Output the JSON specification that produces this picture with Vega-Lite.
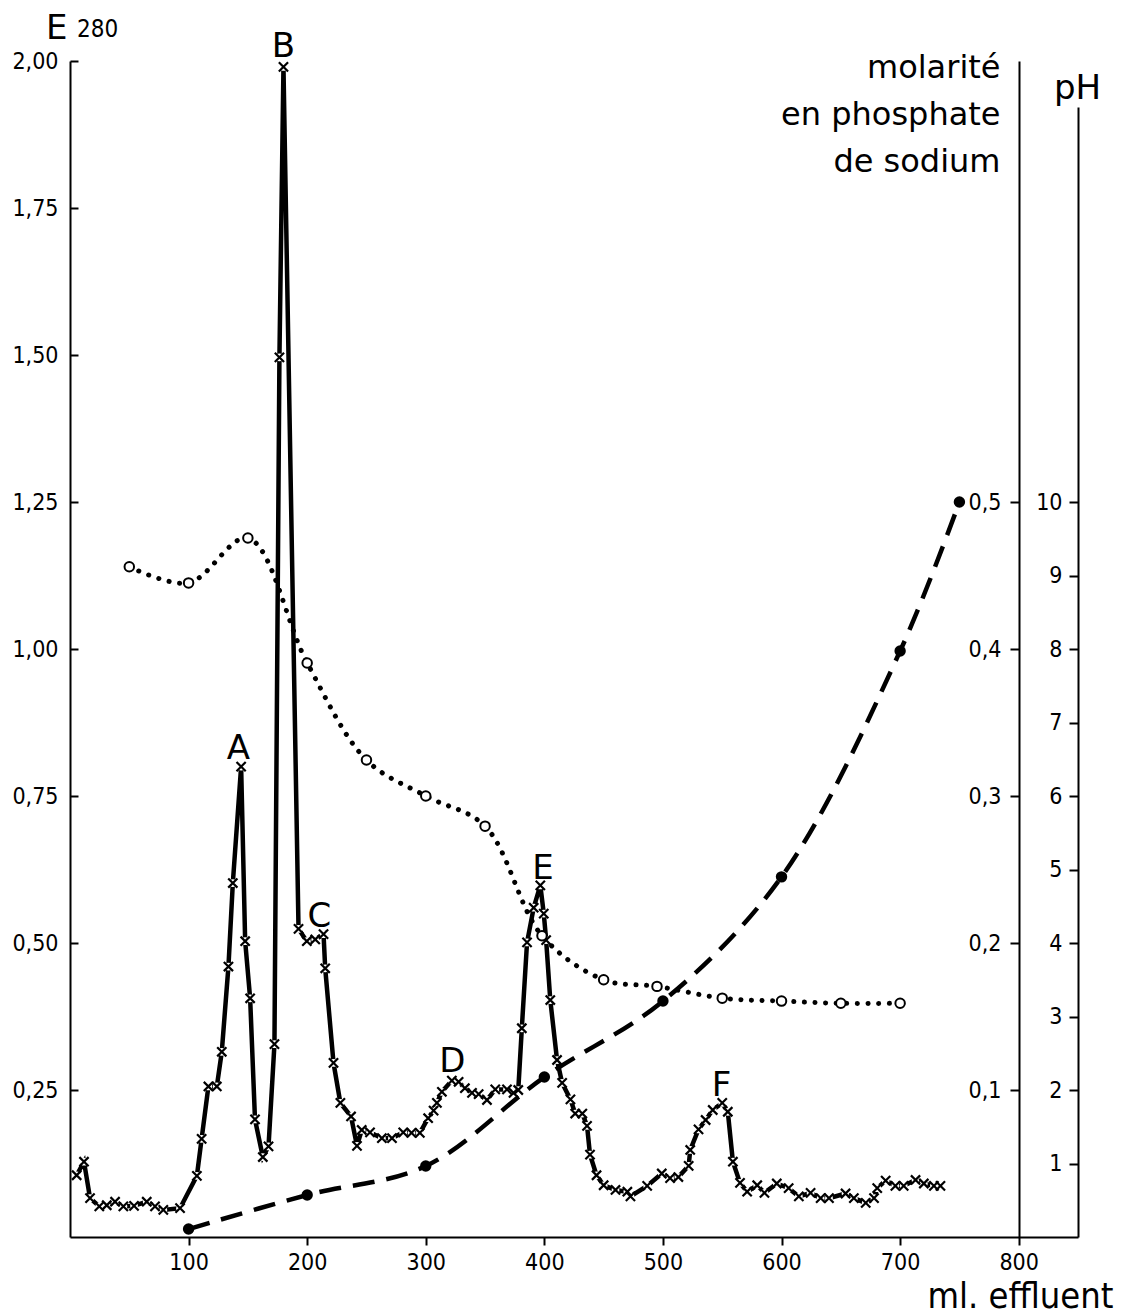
{
  "$schema": "https://vega.github.io/schema/vega-lite/v6.json",
  "width": 1008,
  "height": 1176,
  "autosize": "none",
  "padding": {"left": 70, "top": 61, "right": 51, "bottom": 78},
  "background": "white",
  "config": {
    "view": {"stroke": null},
    "axis": {
      "grid": false,
      "domainColor": "black",
      "tickColor": "black",
      "labelColor": "black",
      "titleColor": "black",
      "labelFont": "DejaVu Sans Condensed",
      "labelFontSize": 23,
      "domainWidth": 2,
      "tickWidth": 2,
      "labelFlush": false,
      "labelOverlap": false,
      "titleFontWeight": "normal"
    }
  },
  "title": {
    "text": "280",
    "anchor": "start",
    "frame": "group",
    "dx": 7,
    "offset": -50,
    "baseline": "alphabetic",
    "fontSize": 24,
    "font": "DejaVu Sans Condensed",
    "fontWeight": "normal",
    "color": "black"
  },
  "datasets": {
    "e280": [
      {"ml": 5.6, "E": 0.105}, {"ml": 11.8, "E": 0.128}, {"ml": 16.9, "E": 0.066}, {"ml": 24.7, "E": 0.052},
      {"ml": 31, "E": 0.054}, {"ml": 38, "E": 0.06}, {"ml": 45, "E": 0.052}, {"ml": 54, "E": 0.053},
      {"ml": 64.7, "E": 0.06}, {"ml": 71.7, "E": 0.052}, {"ml": 78.7, "E": 0.046}, {"ml": 92.8, "E": 0.049},
      {"ml": 107, "E": 0.104}, {"ml": 111, "E": 0.167}, {"ml": 116.7, "E": 0.256}, {"ml": 123.8, "E": 0.256},
      {"ml": 128, "E": 0.315}, {"ml": 133.6, "E": 0.46}, {"ml": 137.3, "E": 0.602}, {"ml": 144.3, "E": 0.8},
      {"ml": 147.7, "E": 0.503}, {"ml": 151.9, "E": 0.406}, {"ml": 156, "E": 0.2}, {"ml": 162.6, "E": 0.136},
      {"ml": 167.4, "E": 0.154}, {"ml": 172.4, "E": 0.328}, {"ml": 176.6, "E": 1.496}, {"ml": 180, "E": 1.99},
      {"ml": 192.7, "E": 0.524}, {"ml": 199.7, "E": 0.503}, {"ml": 206.8, "E": 0.506}, {"ml": 213.8, "E": 0.515},
      {"ml": 215.2, "E": 0.457}, {"ml": 222.2, "E": 0.296}, {"ml": 228, "E": 0.228}, {"ml": 237, "E": 0.205},
      {"ml": 242, "E": 0.155}, {"ml": 246, "E": 0.182}, {"ml": 253, "E": 0.178}, {"ml": 263, "E": 0.168},
      {"ml": 271.5, "E": 0.168}, {"ml": 281, "E": 0.178}, {"ml": 288, "E": 0.177}, {"ml": 295, "E": 0.177},
      {"ml": 302, "E": 0.202}, {"ml": 306.6, "E": 0.215}, {"ml": 309.4, "E": 0.228}, {"ml": 313.6, "E": 0.247},
      {"ml": 322, "E": 0.266}, {"ml": 327.7, "E": 0.264}, {"ml": 333, "E": 0.253}, {"ml": 339, "E": 0.245},
      {"ml": 344.6, "E": 0.243}, {"ml": 351.6, "E": 0.233}, {"ml": 358.6, "E": 0.251}, {"ml": 368.5, "E": 0.251},
      {"ml": 374, "E": 0.245}, {"ml": 378, "E": 0.25}, {"ml": 381, "E": 0.355}, {"ml": 385.4, "E": 0.501},
      {"ml": 391, "E": 0.56}, {"ml": 396.6, "E": 0.598}, {"ml": 399.5, "E": 0.55}, {"ml": 401.5, "E": 0.505},
      {"ml": 405, "E": 0.403}, {"ml": 410.7, "E": 0.301}, {"ml": 415, "E": 0.262}, {"ml": 422, "E": 0.234},
      {"ml": 426, "E": 0.21}, {"ml": 432, "E": 0.21}, {"ml": 436, "E": 0.189}, {"ml": 438.5, "E": 0.14},
      {"ml": 444, "E": 0.105}, {"ml": 450, "E": 0.088}, {"ml": 460, "E": 0.08}, {"ml": 470, "E": 0.077},
      {"ml": 472.6, "E": 0.069}, {"ml": 486.7, "E": 0.087}, {"ml": 499, "E": 0.108}, {"ml": 506, "E": 0.1},
      {"ml": 513, "E": 0.102}, {"ml": 521.7, "E": 0.121}, {"ml": 523, "E": 0.148}, {"ml": 530, "E": 0.183},
      {"ml": 536, "E": 0.199}, {"ml": 542, "E": 0.216}, {"ml": 550, "E": 0.228}, {"ml": 554.7, "E": 0.213},
      {"ml": 559, "E": 0.128}, {"ml": 565, "E": 0.092}, {"ml": 571, "E": 0.077}, {"ml": 579.5, "E": 0.088},
      {"ml": 585.6, "E": 0.075}, {"ml": 596, "E": 0.091}, {"ml": 606, "E": 0.083}, {"ml": 614.6, "E": 0.069},
      {"ml": 624.5, "E": 0.075}, {"ml": 633, "E": 0.066}, {"ml": 640, "E": 0.066}, {"ml": 654, "E": 0.074},
      {"ml": 661, "E": 0.066}, {"ml": 671, "E": 0.058}, {"ml": 678, "E": 0.066}, {"ml": 680.7, "E": 0.083},
      {"ml": 687.8, "E": 0.096}, {"ml": 696, "E": 0.087}, {"ml": 703, "E": 0.087}, {"ml": 713, "E": 0.097},
      {"ml": 720, "E": 0.091}, {"ml": 728.5, "E": 0.087}, {"ml": 734, "E": 0.087}
    ],
    "peaks": [
      {"label": "A", "ml": 142, "E": 0.813},
      {"label": "B", "ml": 180, "E": 2.006},
      {"label": "C", "ml": 210.3, "E": 0.528},
      {"label": "D", "ml": 322.5, "E": 0.28},
      {"label": "E", "ml": 398.9, "E": 0.609},
      {"label": "F", "ml": 549.5, "E": 0.239}
    ],
    "molarity": [
      {"ml": 100, "M": 0.0054}, {"ml": 200, "M": 0.0286}, {"ml": 300, "M": 0.0483}, {"ml": 400, "M": 0.1088},
      {"ml": 500, "M": 0.1605}, {"ml": 600, "M": 0.245}, {"ml": 700, "M": 0.3986}, {"ml": 750, "M": 0.5}
    ],
    "ph": [
      {"ml": 50, "pH": 9.12}, {"ml": 100, "pH": 8.9}, {"ml": 150, "pH": 9.51}, {"ml": 200, "pH": 7.81},
      {"ml": 250, "pH": 6.49}, {"ml": 300, "pH": 6.0}, {"ml": 350, "pH": 5.59}, {"ml": 398, "pH": 4.1},
      {"ml": 450, "pH": 3.5}, {"ml": 495, "pH": 3.41}, {"ml": 550, "pH": 3.25}, {"ml": 600, "pH": 3.21},
      {"ml": 650, "pH": 3.18}, {"ml": 700, "pH": 3.18}
    ]
  },
  "encoding": {
    "x": {
      "field": "ml",
      "type": "quantitative",
      "scale": {"domain": [0, 850], "nice": false, "zero": true},
      "axis": {
        "values": [100, 200, 300, 400, 500, 600, 700, 800],
        "tickSize": 8,
        "labelPadding": 6,
        "title": "ml. effluent",
        "titleFont": "DejaVu Sans Condensed",
        "titleFontSize": 36,
        "titleAlign": "right",
        "titleBaseline": "alphabetic",
        "titleX": 1043,
        "titleY": 70,
        "titleAngle": 0
      }
    }
  },
  "layer": [
    {
      "encoding": {
        "y": {
          "field": "E",
          "type": "quantitative",
          "scale": {"domain": [0, 2], "nice": false},
          "axis": {
            "orient": "left",
            "values": [0.25, 0.5, 0.75, 1, 1.25, 1.5, 1.75, 2],
            "labelExpr": "replace(format(datum.value, '.2f'), '.', ',')",
            "tickSize": -8,
            "labelPadding": 20,
            "labelBaseline": "middle",
            "title": "E",
            "titleFont": "DejaVu Sans",
            "titleFontSize": 34,
            "titleAngle": 0,
            "titleAlign": "right",
            "titleBaseline": "alphabetic",
            "titleX": -3,
            "titleY": -23
          }
        }
      },
      "layer": [
        {"data": {"name": "e280"}, "mark": {"type": "line", "color": "black", "strokeWidth": 4.5}},
        {"data": {"name": "e280"}, "mark": {"type": "point", "shape": "circle", "filled": true, "color": "white", "size": 60, "opacity": 1}},
        {"data": {"name": "e280"}, "mark": {"type": "point", "shape": "M-1,-1L1,1M1,-1L-1,1", "filled": false, "stroke": "black", "strokeWidth": 2.2, "size": 85, "opacity": 1}},
        {
          "data": {"name": "peaks"},
          "mark": {"type": "text", "font": "DejaVu Sans", "fontSize": 34, "align": "center", "baseline": "alphabetic", "color": "black"},
          "encoding": {"text": {"field": "label"}}
        }
      ]
    },
    {
      "encoding": {
        "y": {
          "field": "M",
          "type": "quantitative",
          "scale": {"domain": [0, 0.8], "nice": false},
          "axis": {
            "orient": "left",
            "offset": -949,
            "values": [0.1, 0.2, 0.3, 0.4, 0.5],
            "labelExpr": "replace(format(datum.value, '.1f'), '.', ',')",
            "tickSize": 9,
            "labelPadding": 9,
            "labelBaseline": "middle",
            "title": ["molarité", "en phosphate", "de sodium"],
            "titleFont": "DejaVu Sans",
            "titleFontSize": 32,
            "titleLineHeight": 47,
            "titleAngle": 0,
            "titleAlign": "right",
            "titleBaseline": "alphabetic",
            "titleX": -19,
            "titleY": 16
          }
        }
      },
      "layer": [
        {"data": {"name": "molarity"}, "mark": {"type": "line", "color": "black", "strokeWidth": 4.5, "strokeDash": [22, 12], "interpolate": "catmull-rom"}},
        {"data": {"name": "molarity"}, "mark": {"type": "point", "shape": "circle", "filled": true, "color": "black", "size": 130, "opacity": 1}}
      ]
    },
    {
      "encoding": {
        "y": {
          "field": "pH",
          "type": "quantitative",
          "scale": {"domain": [0, 15.375], "range": [1176, 46], "nice": false},
          "axis": {
            "orient": "left",
            "offset": -1008,
            "values": [1, 2, 3, 4, 5, 6, 7, 8, 9, 10],
            "format": "d",
            "tickSize": 9,
            "labelPadding": 7,
            "labelBaseline": "middle",
            "title": "pH",
            "titleFont": "DejaVu Sans",
            "titleFontSize": 34,
            "titleAngle": 0,
            "titleAlign": "center",
            "titleBaseline": "alphabetic",
            "titleX": -1,
            "titleY": 37
          }
        }
      },
      "layer": [
        {"data": {"name": "ph"}, "mark": {"type": "line", "color": "black", "strokeWidth": 5, "strokeDash": [0.1, 10.5], "strokeCap": "round", "interpolate": "catmull-rom"}},
        {"data": {"name": "ph"}, "mark": {"type": "point", "shape": "circle", "filled": true, "fill": "white", "stroke": "black", "strokeWidth": 2, "size": 90, "opacity": 1}}
      ]
    }
  ],
  "resolve": {"scale": {"y": "independent"}, "axis": {"y": "independent"}}
}
